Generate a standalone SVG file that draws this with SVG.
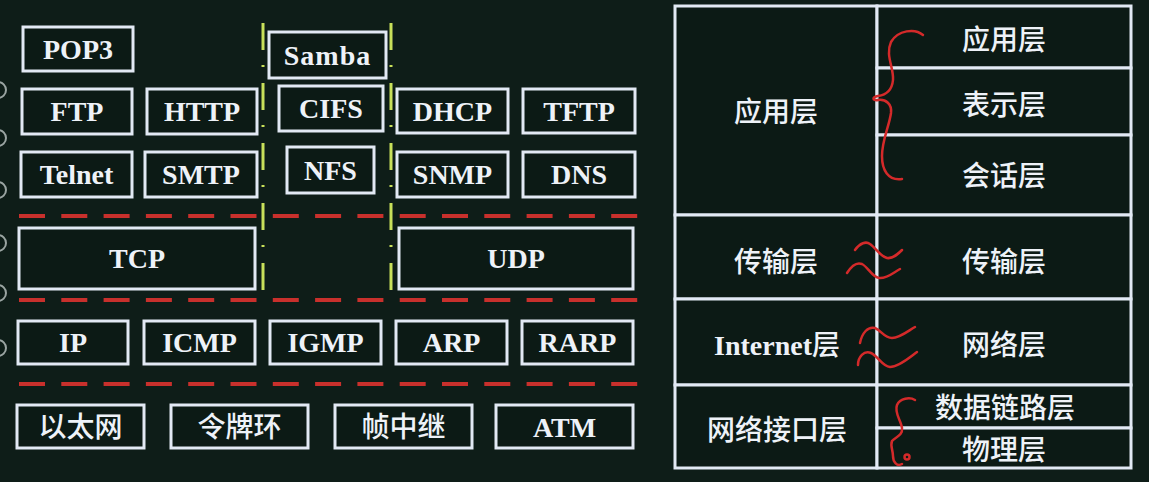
<svg xmlns="http://www.w3.org/2000/svg" width="1149" height="482" viewBox="0 0 1149 482">
<style>
.bx{fill:#0c1a15;stroke:#e2e9f4;stroke-width:3}
.cell{fill:#0c1a15;stroke:#e2e9f4;stroke-width:3}
.t{font-family:"Liberation Serif","Noto Sans CJK SC",serif;font-weight:bold;font-size:28px;fill:#eef2f8;text-anchor:middle}
.c{font-family:"Noto Sans CJK SC","Noto Sans CJK TC",sans-serif;font-weight:500;font-size:28px;fill:#eef2f8;text-anchor:middle}
.rd{stroke:#c8302c;stroke-width:4;stroke-dasharray:26 16.3;fill:none}
.yl{stroke:#c8e05a;stroke-width:3;stroke-dasharray:27 15 2 16;fill:none}
.hw{stroke:#d42a2a;stroke-width:2.5;fill:none;stroke-linecap:round;stroke-linejoin:round}
.edge{stroke:#9aa4a2;stroke-width:2;fill:none}
</style>
<rect x="0" y="0" width="1149" height="482" fill="#0e1d18"/>

<g id="edge-marks">
<circle class="edge" cx="-2" cy="90" r="8"/>
<circle class="edge" cx="-2" cy="138" r="8"/>
<circle class="edge" cx="-2" cy="190" r="8"/>
<circle class="edge" cx="-2" cy="243" r="8"/>
<circle class="edge" cx="-2" cy="293" r="8"/>
<circle class="edge" cx="-2" cy="348" r="8"/>
</g>

<g id="connectors">
<line class="rd" x1="19" y1="216" x2="644" y2="216"/>
<line class="rd" x1="19" y1="300" x2="644" y2="300"/>
<line class="rd" x1="19" y1="384" x2="644" y2="384"/>
<line class="yl" x1="263" y1="23" x2="263" y2="290"/>
<line class="yl" x1="391" y1="23" x2="391" y2="290"/>
</g>

<g id="pop3"><rect class="bx" x="23" y="27" width="110" height="44"/><text class="t" x="78" y="59">POP3</text></g>
<g id="samba"><rect class="bx" x="269" y="32" width="117" height="46"/><text class="t" x="327.5" y="65" letter-spacing="1">Samba</text></g>
<g id="ftp"><rect class="bx" x="22" y="89" width="110" height="45"/><text class="t" x="77" y="121">FTP</text></g>
<g id="http"><rect class="bx" x="147" y="89" width="110" height="45"/><text class="t" x="202" y="121">HTTP</text></g>
<g id="cifs"><rect class="bx" x="279" y="86" width="104" height="45"/><text class="t" x="331" y="118">CIFS</text></g>
<g id="dhcp"><rect class="bx" x="397" y="89" width="111" height="44"/><text class="t" x="452.5" y="121">DHCP</text></g>
<g id="tftp"><rect class="bx" x="523" y="89" width="112" height="44"/><text class="t" x="579" y="121">TFTP</text></g>
<g id="telnet"><rect class="bx" x="21" y="152" width="111" height="45"/><text class="t" x="76.5" y="184">Telnet</text></g>
<g id="smtp"><rect class="bx" x="145" y="152" width="112" height="45"/><text class="t" x="201" y="184">SMTP</text></g>
<g id="nfs"><rect class="bx" x="287" y="147" width="87" height="46"/><text class="t" x="330.5" y="180">NFS</text></g>
<g id="snmp"><rect class="bx" x="397" y="152" width="111" height="45"/><text class="t" x="452.5" y="184">SNMP</text></g>
<g id="dns"><rect class="bx" x="523" y="152" width="112" height="45"/><text class="t" x="579" y="184">DNS</text></g>

<g id="tcp"><rect class="bx" x="19" y="228" width="236" height="61"/><text class="t" x="137" y="268">TCP</text></g>
<g id="udp"><rect class="bx" x="399" y="228" width="234" height="61"/><text class="t" x="516" y="268">UDP</text></g>

<g id="ip"><rect class="bx" x="18" y="321" width="110" height="43"/><text class="t" x="73" y="352">IP</text></g>
<g id="icmp"><rect class="bx" x="144" y="321" width="111" height="43"/><text class="t" x="199.5" y="352">ICMP</text></g>
<g id="igmp"><rect class="bx" x="270" y="321" width="111" height="43"/><text class="t" x="325.5" y="352">IGMP</text></g>
<g id="arp"><rect class="bx" x="396" y="321" width="111" height="43"/><text class="t" x="451.5" y="352">ARP</text></g>
<g id="rarp"><rect class="bx" x="522" y="321" width="111" height="43"/><text class="t" x="577.5" y="352">RARP</text></g>

<g id="ethernet"><rect class="bx" x="17" y="405" width="127" height="43"/><text class="c" x="80.5" y="437">以太网</text></g>
<g id="tokenring"><rect class="bx" x="171" y="405" width="137" height="43"/><text class="c" x="239.5" y="437">令牌环</text></g>
<g id="framerelay"><rect class="bx" x="335" y="405" width="137" height="43"/><text class="c" x="403.5" y="437">帧中继</text></g>
<g id="atm"><rect class="bx" x="496" y="405" width="137" height="43"/><text class="t" x="564.5" y="437">ATM</text></g>

<g id="tcpip-app"><rect class="cell" x="675" y="6" width="202" height="209"/><text class="c" x="776" y="122">应用层</text></g>
<g id="tcpip-transport"><rect class="cell" x="675" y="215" width="202" height="84"/><text class="c" x="776" y="272">传输层</text></g>
<g id="tcpip-internet"><rect class="cell" x="675" y="299" width="202" height="86"/><text class="t" x="777" y="355">Internet<tspan class="c" style="font-weight:500">层</tspan></text></g>
<g id="tcpip-netif"><rect class="cell" x="675" y="385" width="202" height="83"/><text class="c" x="777" y="440">网络接口层</text></g>

<g id="osi-app"><rect class="cell" x="877" y="6" width="254" height="62"/><text class="c" x="1004" y="50">应用层</text></g>
<g id="osi-pres"><rect class="cell" x="877" y="68" width="254" height="67"/><text class="c" x="1004" y="115">表示层</text></g>
<g id="osi-session"><rect class="cell" x="877" y="135" width="254" height="80"/><text class="c" x="1004" y="186">会话层</text></g>
<g id="osi-transport"><rect class="cell" x="877" y="215" width="254" height="84"/><text class="c" x="1004" y="272">传输层</text></g>
<g id="osi-network"><rect class="cell" x="877" y="299" width="254" height="86"/><text class="c" x="1004" y="355">网络层</text></g>
<g id="osi-datalink"><rect class="cell" x="877" y="385" width="254" height="43"/><text class="c" x="1005" y="418">数据链路层</text></g>
<g id="osi-physical"><rect class="cell" x="877" y="428" width="254" height="40"/><text class="c" x="1004" y="460">物理层</text></g>

<g id="annotations">
<path class="hw" d="M923,35 C915,28 898,30 891,42 C885,55 894,68 893,80 C892,90 886,95 878,96 C872,97 872,101 878,100 C886,99 892,104 891,113 C889,127 882,140 882,156 C882,170 888,181 902,179"/>
<path class="hw" d="M855,250 C860,243 866,241 870,244 C876,248 880,256 887,258 C893,259 898,254 902,250"/>
<path class="hw" d="M847,273 C852,265 857,262 862,264 C868,267 872,277 879,278 C887,279 894,272 900,269"/>
<path class="hw" d="M860,343 C862,333 868,326 875,328 C882,331 884,338 892,338 C900,338 908,331 915,327"/>
<path class="hw" d="M858,365 C858,357 864,350 871,353 C878,356 882,366 890,367 C899,367 910,357 917,352"/>
<path class="hw" d="M915,400 C910,397 900,398 897,405 C894,413 901,420 902,428 C903,436 895,437 892,441 C890,446 893,450 893,456 C893,462 897,467 902,464"/>
<circle class="hw" cx="907" cy="457" r="2.5"/>
</g>
</svg>
